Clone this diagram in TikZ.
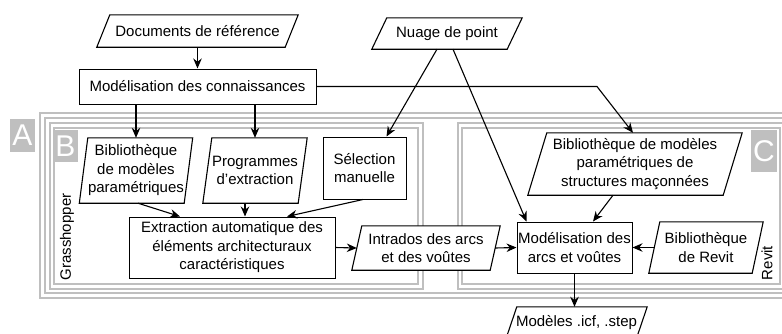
\documentclass[tikz,border=0pt]{standalone}
\usepackage{fontspec}
\setmainfont{Liberation Sans}
\usetikzlibrary{arrows.meta,calc}
\newcommand\parashape[2]{%
  \draw[line width=1.1pt, fill=white] ([xshift=#2/2]#1.north west) -- ([xshift=#2/2]#1.north east)
    -- ([xshift=-#2/2]#1.south east) -- ([xshift=-#2/2]#1.south west) -- cycle;}
\begin{document}
\begin{tikzpicture}[x=1pt,y=-1pt,
  txt/.style={align=center, inner sep=0pt, font=\fontsize{15}{18.5}\selectfont},
  rbox/.style={txt, draw, fill=white, line width=1pt},
  pbox/.style={txt},
  arr/.style={line width=1.1pt, -{Stealth[length=10pt,width=8.5pt]}},
  frame/.style={draw=gray!50, line width=2.1pt, double=white, double distance=2.4pt},
  tag/.style={fill=gray!50, text=white, font=\fontsize{30}{30}\selectfont, inner sep=0pt}
]
\useasboundingbox (0,0) rectangle (782,333);
\clip (0,0) rectangle (782,333);
\fill[white] (0,0) rectangle (782,333);

% frames
\draw[frame] (42.5,115.5) rectangle (800,295.5);
\draw[frame] (52,125.5) rectangle (420.5,286.5);
\draw[frame] (460,125.5) rectangle (782,286.5);

% tags
\node[tag, minimum width=25pt, minimum height=33pt] (tA) at (22.5,135.5) {A};
\node[tag, minimum width=25pt, minimum height=32pt] (tB) at (65.5,146) {B};
\node[tag, minimum width=26pt, minimum height=42pt] (tC) at (764,151) {C};
\node[txt, rotate=90] (gh) at (67,237) {Grasshopper};
\node[txt, rotate=90] (rv) at (767,263) {Revit};

% nodes
\node[pbox, minimum width=188pt, minimum height=32pt] (docs) at (197.5,31) {};
\parashape{docs}{13}
\node[txt] at (docs) {Documents de référence};

\node[rbox, minimum width=237pt, minimum height=35pt] (conn) at (197.5,86.5) {Modélisation des connaissances};

\node[pbox, minimum width=135pt, minimum height=31pt] (nuage) at (447,33.5) {};
\parashape{nuage}{15}
\node[txt] at (nuage) {Nuage de point};

\node[pbox, minimum width=104.5pt, minimum height=65pt] (bib) at (136,170.5) {};
\parashape{bib}{8.5}
\node[txt] at (bib) {Bibliothèque\\de modèles\\paramétriques};

\node[pbox, minimum width=95pt, minimum height=65pt] (prog) at (255,170.5) {};
\parashape{prog}{9}
\node[txt] at (prog) {Programmes\\d'extraction};

\node[rbox, minimum width=83pt, minimum height=62pt] (sel) at (364.5,168) {Sélection\\manuelle};

\node[rbox, minimum width=206pt, minimum height=61pt] (extr) at (232,247.5) {Extraction automatique des\\éléments architecturaux\\caractéristiques};

\node[pbox, minimum width=138pt, minimum height=44pt] (intr) at (426,248) {};
\parashape{intr}{10}
\node[txt] at (intr) {Intrados des arcs\\et des voûtes};

\node[rbox, minimum width=115pt, minimum height=51pt] (model) at (574.5,247.5) {Modélisation des\\arcs et voûtes};

\node[pbox, minimum width=103pt, minimum height=51pt] (revit) at (706,247.5) {};
\parashape{revit}{11}
\node[txt] at (revit) {Bibliothèque\\de Revit};

\node[pbox, minimum width=195pt, minimum height=62pt] (bibc) at (635,164) {};
\parashape{bibc}{19}
\node[txt] at (bibc) {Bibliothèque de modèles\\paramétriques de\\structures maçonnées};

\node[pbox, minimum width=130pt, minimum height=32pt] (out) at (576.5,323) {};
\parashape{out}{11}
\node[txt] at (out) {Modèles .icf, .step};

% connectors
\draw[arr] (docs.south) -- (conn.north);
\draw[arr] (bib.north |- conn.south) -- (bib.north);
\draw[arr] (prog.north |- conn.south) -- (prog.north);
\draw[arr] (conn.east) -- ([xshift=-38]bibc.north |- conn.east) -- ([xshift=-2]bibc.north);
\draw[arr] ([xshift=-10]nuage.south) -- ([xshift=22]sel.north);
\draw[arr] ([xshift=6]nuage.south) -- ([xshift=-48]model.north);
\draw[arr] ([xshift=-22]bibc.south) -- ([xshift=18.5]model.north);
\draw[arr] ([xshift=2]bib.south) -- ([xshift=-52]extr.north);
\draw[arr] ([xshift=-10]prog.south) -- ([xshift=13]extr.north);
\draw[arr] ([xshift=-1.5]sel.south) -- ([xshift=55]extr.north);
\draw[arr] (extr.east) -- (intr.west);
\draw[arr] (intr.east) -- (model.west);
\draw[arr] (revit.west) -- (model.east);
\draw[arr] (model.south) -- (model.south |- out.north);
\end{tikzpicture}
\end{document}
